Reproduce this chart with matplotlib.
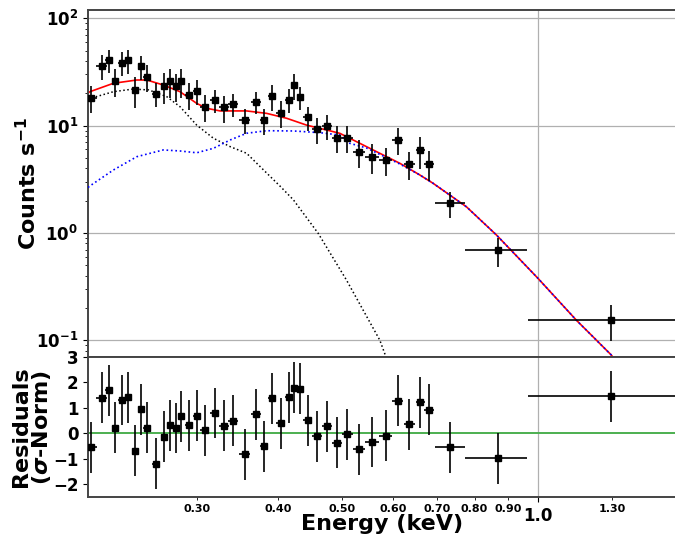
import matplotlib
matplotlib.use("Agg")
import matplotlib.pyplot as plt
from matplotlib.ticker import FixedLocator, FixedFormatter

# ---------------- data ----------------
energy = [0.2063, 0.2142, 0.2196, 0.2245, 0.2299, 0.2353, 0.2406, 0.2458, 0.2511, 0.2594,
          0.2673, 0.2727, 0.2782, 0.2835, 0.2912, 0.2996, 0.3082, 0.3191, 0.3299, 0.3409,
          0.3549, 0.3690, 0.3803, 0.3913, 0.4029, 0.4146, 0.4233, 0.4318, 0.4437, 0.4581,
          0.4750, 0.4922, 0.5105, 0.5320, 0.5568, 0.5846, 0.6099, 0.6348, 0.6603, 0.6820,
          0.7336, 0.8694, 1.297]
xerr_lo = [0.004, 0.004, 0.0027, 0.0026, 0.0027, 0.0027, 0.0026, 0.0026, 0.003, 0.004,
           0.003, 0.0027, 0.0027, 0.003, 0.004, 0.0042, 0.005, 0.0055, 0.0054, 0.006,
           0.007, 0.0065, 0.0055, 0.0057, 0.006, 0.005, 0.0043, 0.005, 0.007, 0.008,
           0.0085, 0.009, 0.010, 0.012, 0.013, 0.013, 0.012, 0.0125, 0.011, 0.012,
           0.0376, 0.0964, 0.331]
xerr_hi = [0.004, 0.004, 0.0027, 0.0026, 0.0027, 0.0027, 0.0026, 0.0026, 0.003, 0.004,
           0.003, 0.0027, 0.0027, 0.003, 0.004, 0.0042, 0.005, 0.0055, 0.0054, 0.006,
           0.007, 0.0065, 0.0055, 0.0057, 0.006, 0.005, 0.0043, 0.005, 0.007, 0.008,
           0.0085, 0.009, 0.010, 0.012, 0.013, 0.013, 0.012, 0.0125, 0.011, 0.012,
           0.0394, 0.0946, 0.40]
counts = [18.2, 35.9, 40.8, 26.2, 38.6, 40.6, 21.5, 35.7, 28.6, 19.8,
          23.5, 25.9, 23.5, 25.9, 19.4, 21.0, 15.0, 17.3, 14.8, 15.9,
          11.3, 16.7, 11.2, 18.7, 13.2, 17.4, 23.9, 18.5, 11.9, 9.3,
          9.9, 7.7, 7.7, 5.71, 5.13, 4.81, 7.39, 4.38, 5.93, 4.42,
          1.91, 0.693, 0.155]
counts_err = [5.0, 9.5, 9.8, 7.8, 9.6, 10.5, 7.0, 9.0, 8.0, 5.0,
              7.5, 8.0, 7.0, 7.8, 5.5, 5.5, 4.2, 4.2, 4.2, 4.0,
              2.9, 4.0, 3.0, 5.0, 3.7, 4.3, 6.5, 4.5, 2.9, 2.5,
              2.6, 2.2, 2.2, 1.7, 1.6, 1.4, 2.1, 1.3, 1.95, 1.4,
              0.52, 0.21, 0.057]
residuals = [-0.54, 1.40, 1.70, 0.22, 1.31, 1.42, -0.69, 0.94, 0.22, -1.19,
             -0.14, 0.31, 0.21, 0.67, 0.31, 0.69, 0.12, 0.80, 0.30, 0.50,
             -0.82, 0.75, -0.50, 1.37, 0.39, 1.41, 1.79, 1.76, 0.51, -0.12,
             0.27, -0.37, -0.04, -0.63, -0.34, -0.10, 1.29, 0.35, 1.23, 0.92,
             -0.55, -0.98, 1.45]
resid_err = [1.0] * 43

# model curves
total_E = [0.2040, 0.2054, 0.2232, 0.2424, 0.2511, 0.2662, 0.2824, 0.2996, 0.3103, 0.3253,
           0.3574, 0.3836, 0.4117, 0.4418, 0.4741, 0.4969, 0.5461, 0.6144, 0.6590, 0.6908,
           0.7774, 0.8643, 1.001, 1.146, 1.297, 1.313]
total_F = [20.1, 20.7, 24.8, 26.6, 26.6, 23.9, 20.7, 16.1, 14.5, 13.7,
           13.7, 13.0, 11.7, 10.1, 9.1, 8.47, 6.36, 4.45, 3.47, 2.90,
           1.75, 0.956, 0.377, 0.154, 0.0728, 0.0656]
hot_E = [0.2040, 0.2054, 0.2232, 0.2424, 0.2662, 0.2824, 0.2996, 0.3178, 0.3373, 0.3574,
         0.3836, 0.4217, 0.4630, 0.4969, 0.5146, 0.5461, 0.6144, 0.6590, 0.6908,
         0.7774, 0.8643, 1.001, 1.146, 1.297, 1.313]
hot_F = [2.65, 2.74, 3.86, 5.13, 5.93, 5.80, 5.58, 6.14, 7.35, 8.48,
         8.96, 8.91, 8.59, 8.17, 6.84, 6.18, 4.38, 3.47, 2.90,
         1.75, 0.956, 0.377, 0.154, 0.0728, 0.0656]
cool_E = [0.2040, 0.2054, 0.2232, 0.2392, 0.2528, 0.2695, 0.2824, 0.2996, 0.3178, 0.3373,
          0.3574, 0.3794, 0.4029, 0.4217, 0.4603, 0.5086, 0.5723, 0.5848, 0.5930]
cool_F = [17.6, 17.9, 20.7, 21.9, 21.5, 18.6, 15.0, 10.1, 7.62, 6.36,
          5.52, 3.86, 2.70, 2.03, 0.99, 0.364, 0.100, 0.070, 0.0575]

minor_ticks = [0.3, 0.4, 0.5, 0.6, 0.7, 0.8, 0.9, 1.3]
minor_labels = ["0.30", "0.40", "0.50", "0.60", "0.70", "0.80", "0.90", "1.30"]

# ---------------- figure ----------------
plt.rcParams['font.family'] = ['DejaVu Sans']
plt.rcParams['font.weight'] = 'bold'
plt.rcParams['axes.labelweight'] = 'bold'

fig = plt.figure(figsize=(6.75, 5.4), dpi=100)
L, W = 88 / 675, 0.872
ax1 = fig.add_axes([L, 1 - 357 / 540, W, 347 / 540])
ax2 = fig.add_axes([L, 1 - 497 / 540, W, 140 / 540], sharex=ax1)

xmin, xmax = 0.2040, 1.634

# top panel
ax1.set_xscale('log')
ax1.set_yscale('log')
ax1.grid(True, which='major', color='#b0b0b0', lw=0.9)
ax1.set_axisbelow(True)
ax1.plot(total_E, total_F, color='red', ls='-', lw=1.2, zorder=2)
ax1.plot(cool_E, cool_F, color='black', ls=':', lw=1.1, zorder=3)
ax1.plot(hot_E, hot_F, color='blue', ls=':', lw=1.2, zorder=3)
ax1.errorbar(energy, counts, yerr=counts_err, xerr=[xerr_lo, xerr_hi], fmt='s',
             color='black', ms=5, elinewidth=1.2, capsize=0, zorder=5)
ax1.set_xlim(xmin, xmax)
ax1.set_ylim(0.0697, 119.5)
ax1.set_ylabel(r'Counts s$^{-1}$', fontsize=16, fontweight='bold')
ax1.tick_params(axis='x', which='both', labelbottom=False)
ax1.tick_params(axis='y', which='major', labelsize=12)

# residual panel
ax2.grid(True, which='major', axis='x', color='#b0b0b0', lw=0.9)
ax2.set_axisbelow(True)
ax2.axhline(0, color='#4caf50', lw=1.4, zorder=1)
ax2.errorbar(energy, residuals, yerr=resid_err, xerr=[xerr_lo, xerr_hi], fmt='s',
             color='black', ms=5, elinewidth=1.2, capsize=0, zorder=5)
ax2.set_ylim(-2.5, 3.0)
ax2.set_yticks([-2, -1, 0, 1, 2, 3])
ax2.tick_params(axis='y', labelsize=12)
ax2.set_ylabel('Residuals\n(' + r'$\sigma$' + '-Norm)', fontsize=16, fontweight='bold',
               linespacing=0.95)
ax2.set_xlabel('Energy (keV)', fontsize=16, fontweight='bold')
ax2.xaxis.set_major_locator(FixedLocator([1.0]))
ax2.xaxis.set_major_formatter(FixedFormatter(["1.0"]))
ax2.xaxis.set_minor_locator(FixedLocator(minor_ticks))
ax2.xaxis.set_minor_formatter(FixedFormatter(minor_labels))
ax2.tick_params(axis='x', which='major', labelsize=12)
ax2.tick_params(axis='x', which='minor', labelsize=8)
ax2.set_xlim(xmin, xmax)

for ax in (ax1, ax2):
    for s in ax.spines.values():
        s.set_color('#444444')
        s.set_linewidth(1.4)

ax1.yaxis.set_label_coords(-0.082, 0.5)
ax2.yaxis.set_label_coords(-0.06, 0.5)
ax2.xaxis.set_label_coords(0.5, -0.125)

fig.savefig('out.png', dpi=100)
